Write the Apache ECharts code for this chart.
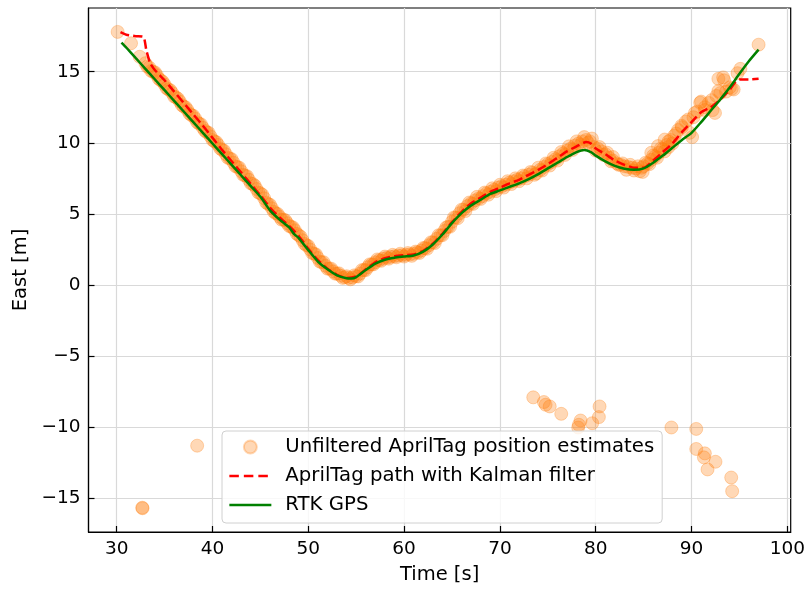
<!DOCTYPE html>
<html><head><meta charset="utf-8">
<script src="https://cdn.jsdelivr.net/npm/echarts@6/dist/echarts.min.js"></script>
<style>html,body{margin:0;padding:0;background:#fff}#c{width:808px;height:590px}</style>
</head><body><div id="c"></div>
<script>
const xTicks = [30, 40, 50, 60, 70, 80, 90, 100];
const yTicks = [-15, -10, -5, 0, 5, 10, 15];
const seriesNames = ['Unfiltered AprilTag position estimates', 'AprilTag path with Kalman filter', 'RTK GPS'];

// [time s, east m]
const gpsPath = [[30.5,17.05],[31,16.7],[32,15.95],[33,15.2],[34,14.45],[35,13.7],[36,12.95],[37,12.2],[38,11.45],[39,10.7],[40,9.95],[41,9.2],[42,8.45],[43,7.7],[44,6.95],[45,6.2],[46,5.25],[47,4.6],[48,4.05],[48.5,3.6],[49,3.3],[50,2.45],[51,1.65],[52,1.1],[53,0.68],[54,0.47],[54.5,0.45],[55,0.55],[56,1.05],[57,1.5],[58,1.78],[59,1.92],[60,2.0],[61,2.08],[62,2.35],[63,2.85],[64,3.55],[65,4.35],[66,5.05],[67,5.6],[68,6.0],[69,6.4],[70,6.65],[71,6.9],[72,7.15],[73,7.45],[74,7.8],[75,8.2],[76,8.6],[77,9.0],[78,9.35],[78.8,9.5],[79.5,9.35],[80,9.1],[81,8.7],[82,8.38],[83,8.18],[84,8.1],[85,8.2],[86,8.6],[87,9.1],[88,9.65],[89,10.2],[90,10.7],[91,11.45],[92,12.25],[93,13.05],[94,13.9],[95,14.85],[96,15.75],[97,16.55]];

const kalmanPath = [[30.4,17.78],[31,17.6],[32,17.5],[32.8,17.45],[33.1,16.5],[33.5,15.6],[34,15.1],[35,14.4],[36,13.6],[37,12.8],[38,12.0],[39,11.2],[40,10.35],[41,9.5],[42,8.7],[43,7.9],[44,7.1],[45,6.3],[46,5.45],[47,4.75],[48,4.15],[49,3.45],[50,2.55],[51,1.75],[52,1.15],[53,0.72],[54,0.5],[55,0.6],[56,1.1],[57,1.6],[58,1.88],[59,2.02],[60,2.1],[61,2.15],[62,2.4],[63,2.9],[64,3.6],[65,4.42],[66,5.15],[67,5.75],[68,6.15],[69,6.55],[70,6.85],[71,7.15],[72,7.4],[73,7.75],[74,8.1],[75,8.5],[76,8.95],[77,9.4],[78,9.75],[79,10.05],[79.5,9.95],[80,9.6],[81,9.2],[82,8.75],[83,8.45],[84,8.25],[85,8.25],[86,8.75],[87,9.35],[88,9.95],[89,10.75],[90,11.45],[91,12.15],[92,12.5],[93,13.05],[94,13.75],[94.6,14.3],[95,14.45],[96,14.45],[97,14.5]];

const aprilBand = [[30.1,17.8],[31.5,17.0],[32.4,16.05],[33.0,15.6],[33.4,15.3],[33.8,15.0],[34.2,14.75],[34.6,14.4],[35.0,14.1],[35.4,13.75],[35.8,13.5],[36.2,13.2],[36.6,12.9],[37.0,12.55],[37.4,12.3],[37.8,11.95],[38.2,11.7],[38.6,11.35],[39.0,11.05],[39.4,10.75],[39.8,10.45],[40.2,10.1],[40.6,9.85],[41.0,9.5],[41.4,9.2],[41.8,8.9],[42.2,8.6],[42.6,8.3],[43.0,8.0],[43.4,7.7],[43.8,7.4],[44.2,7.1],[44.6,6.75],[45.0,6.45],[45.4,6.1],[45.8,5.7],[46.2,5.4],[46.6,5.05],[47.0,4.8],[47.4,4.6],[47.8,4.35],[48.2,4.1],[48.6,3.85],[49.0,3.5],[49.4,3.15],[49.8,2.8],[50.2,2.5],[50.6,2.2],[51.0,1.9],[51.4,1.6],[51.8,1.35],[52.2,1.15],[52.6,0.95],[53.0,0.8],[53.4,0.65],[53.8,0.55],[54.2,0.5],[54.6,0.52],[55.0,0.62],[55.4,0.8],[55.8,1.05],[56.2,1.25],[56.6,1.45],[57.0,1.6],[57.4,1.75],[57.8,1.85],[58.2,1.92],[58.6,1.98],[59.0,2.02],[59.4,2.07],[59.8,2.1],[60.2,2.12],[60.6,2.15],[61.0,2.2],[61.4,2.3],[61.8,2.42],[62.2,2.6],[62.6,2.8],[63.0,3.0],[63.4,3.25],[63.8,3.5],[64.2,3.8],[64.6,4.1],[65.0,4.45],[65.4,4.75],[65.8,5.05],[66.2,5.3],[66.6,5.55],[67.0,5.75],[67.4,5.95],[67.8,6.1],[68.2,6.25],[68.6,6.45],[69.0,6.55],[69.4,6.7],[69.8,6.85],[70.2,6.95],[70.6,7.05],[71.0,7.2],[71.4,7.3],[71.8,7.4],[72.2,7.5],[72.6,7.65],[73.0,7.75],[73.4,7.9],[73.8,7.85],[74.2,8.1],[74.6,8.3],[75.0,8.5],[75.4,8.65],[75.8,8.85],[76.2,9.05],[76.6,9.25],[77.0,9.45],[77.4,9.6],[77.8,9.8],[78.2,9.95],[78.6,10.1],[79.0,10.2],[79.4,10.1],[79.8,9.7],[80.2,9.6],[80.6,9.4],[81.0,9.2],[81.4,8.95],[81.8,8.75],[82.2,8.55],[82.6,8.45],[83.0,8.35],[83.4,8.3],[83.8,8.25],[84.2,8.2],[84.6,8.0],[85.0,8.35],[85.4,8.55],[85.8,8.8],[86.2,9.05],[86.6,9.3],[87.0,9.55],[87.4,9.85],[87.8,10.2],[88.2,10.5],[88.6,10.9],[89.0,11.1],[89.4,11.5],[89.8,10.7],[90.2,11.8],[90.6,12.2],[91.0,12.9],[91.4,12.5],[91.8,12.8],[92.2,12.3],[92.6,13.3],[92.8,14.5],[93.3,14.6],[93.6,13.6],[94.0,13.9],[94.4,13.75],[94.8,14.9],[95.1,15.2],[97.0,16.9],
[84.9,7.95],[85.8,9.3],[86.5,9.77],[87.2,10.23],[87.6,9.7],[88.95,11.2],[89.65,11.64],[90.06,10.4],[90.35,12.1],[90.9,12.82],[91.4,12.3],[92.1,13.0],[92.45,12.1],[92.8,13.64],[93.0,13.5],[93.4,14.4],[94.2,13.8]];

const aprilBandExtra = [[33.2,15.35],[33.6,15.05],[34.0,14.95],[34.4,14.5],[34.8,14.3],[35.2,13.85],[35.6,13.7],[36.0,13.25],[36.4,13.1],[36.8,12.65],[37.2,12.5],[37.6,12.05],[38.0,11.9],[38.4,11.45],[38.8,11.3],[39.2,10.85],[39.6,10.7],[40.0,10.2],[40.4,10.05],[40.8,9.6],[41.2,9.45],[41.6,8.95],[42.0,8.85],[42.4,8.35],[42.8,8.25],[43.2,7.75],[43.6,7.65],[44.0,7.15],[44.4,7.0],[44.8,6.5],[45.2,6.35],[45.6,5.8],[46.0,5.65],[46.4,5.15],[46.8,5.0],[47.2,4.6],[47.6,4.55],[48.0,4.15],[48.4,4.05],[48.8,3.6],[49.2,3.4],[49.6,2.9],[50.0,2.75],[50.4,2.25],[50.8,2.15],[51.2,1.65],[51.6,1.6],[52.0,1.15],[52.4,1.15],[52.8,0.8],[53.2,0.82],[53.6,0.5],[54.0,0.62],[54.4,0.4],[54.8,0.68],[55.2,0.6],[55.6,1.05],[56.0,1.05],[56.4,1.45],[56.8,1.45],[57.2,1.8],[57.6,1.7],[58.0,2.0],[58.4,1.85],[58.8,2.12],[59.2,1.95],[59.6,2.2],[60.0,2.0],[60.4,2.25],[60.8,2.05],[61.2,2.35],[61.6,2.25],[62.0,2.6],[62.4,2.55],[62.8,3.0],[63.2,2.95],[63.6,3.5],[64.0,3.5],[64.4,4.05],[64.8,4.1],[65.2,4.75],[65.6,4.7],[66.0,5.3],[66.4,5.2],[66.8,5.8],[67.2,5.7],[67.6,6.2],[68.0,6.05],[68.4,6.5],[68.8,6.35],[69.2,6.8],[69.6,6.6],[70.0,7.05],[70.4,6.85],[70.8,7.3],[71.2,7.1],[71.6,7.5],[72.0,7.3],[72.4,7.7],[72.8,7.5],[73.2,7.95],[73.6,7.75],[74.0,8.25],[74.4,8.05],[74.8,8.55],[75.2,8.4],[75.6,8.95],[76.0,8.75],[76.4,9.35],[76.8,9.15],[77.2,9.75],[77.6,9.5],[78.0,10.1],[78.4,9.85],[78.8,10.4],[79.2,10.0],[79.6,10.3],[80.0,9.45],[80.4,9.7],[80.8,9.15],[81.2,9.3],[81.6,8.7],[81.8,9.0],[82.4,8.45],[82.8,8.55],[83.2,8.1],[83.6,8.45],[84.0,8.05],[84.4,8.35],[84.8,8.25],[85.2,8.6],[85.6,8.5],[86.0,9.1],[86.4,8.95],[86.8,9.6],[87.2,9.4],[87.6,10.1],[88.0,9.95],[88.4,10.65]];

const aprilOutliers = [[32.67,-15.66],[32.7,-15.7],[38.4,-11.3],[73.48,-7.9],[74.59,-8.23],[74.77,-8.42],[75.2,-8.54],[76.4,-9.06],[78.24,-9.83],[78.42,-9.53],[78.17,-10.02],[79.63,-9.72],[80.33,-9.29],[80.4,-8.54],[87.9,-10.02],[90.49,-10.12],[90.49,-11.53],[91.39,-11.84],[91.29,-12.12],[92.5,-12.43],[91.67,-12.97],[94.14,-13.54],[94.24,-14.5]];

const aprilPoints = aprilBand.concat(aprilBandExtra, aprilOutliers);

const FONT = 'DejaVu Sans';
const minus = v => String(v).replace('-', '\u2212');

const chart = echarts.init(document.getElementById('c'), null, {renderer: 'canvas'});
chart.setOption({
  animation: false,
  backgroundColor: '#fff',
  grid: {left: 88.5, right: 16, top: 8, bottom: 58, show: true, borderColor: '#000', borderWidth: 1.2, backgroundColor: 'transparent'},
  xAxis: {
    type: 'value', min: 27.06, max: 100.35,
    name: 'Time [s]', nameLocation: 'middle', nameGap: 33,
    nameTextStyle: {fontFamily: FONT, fontSize: 19.5, color: '#000'},
    axisLine: {show: true, onZero: false, lineStyle: {color: '#000', width: 1.2}},
    axisTick: {show: true, inside: true, length: 6, customValues: xTicks, lineStyle: {color: '#000', width: 1.2}},
    axisLabel: {customValues: xTicks, fontFamily: FONT, fontSize: 18.5, color: '#000', margin: 8, formatter: minus},
    splitLine: {show: true, lineStyle: {color: '#d9d9d9', width: 1.2}}
  },
  yAxis: {
    type: 'value', min: -17.37, max: 19.48,
    name: 'East [m]', nameLocation: 'middle', nameGap: 56, nameRotate: 90,
    nameTextStyle: {fontFamily: FONT, fontSize: 19.5, color: '#000'},
    axisLine: {show: true, onZero: false, lineStyle: {color: '#000', width: 1.2}},
    axisTick: {show: true, inside: true, length: 6, customValues: yTicks, lineStyle: {color: '#000', width: 1.2}},
    axisLabel: {customValues: yTicks, fontFamily: FONT, fontSize: 18.5, color: '#000', margin: 8, formatter: minus},
    splitLine: {show: true, lineStyle: {color: '#d9d9d9', width: 1.2}}
  },
  legend: {
    orient: 'vertical', left: 222, top: 431,
    padding: [6, 8, 8, 6],
    itemWidth: 42, itemHeight: 13, itemGap: 9,
    selectedMode: false,
    backgroundColor: 'rgba(255,255,255,0.8)', borderColor: '#d0d0d0', borderWidth: 1, borderRadius: 4,
    textStyle: {fontFamily: FONT, fontSize: 19.7, color: '#000', lineHeight: 19.5, padding: [0, 0, 0, 9]},
    data: [
      {name: seriesNames[0]},
      {name: seriesNames[1], itemStyle: {opacity: 0}, lineStyle: {width: 2.7, type: [9.5, 5]}},
      {name: seriesNames[2], itemStyle: {opacity: 0}, lineStyle: {width: 2.7}}
    ]
  },
  series: [
    {
      name: seriesNames[0], type: 'scatter', data: aprilPoints, symbol: 'circle', symbolSize: 13,
      itemStyle: {color: '#ff7f0e', borderColor: '#ff7f0e', borderWidth: 1, opacity: 0.3},
      z: 1
    },
    {
      name: seriesNames[1], type: 'line', data: kalmanPath, symbol: 'none', smooth: 0.2,
      lineStyle: {color: '#ff0000', width: 2.5, type: [9.25, 4]}, itemStyle: {color: '#ff0000'},
      z: 2
    },
    {
      name: seriesNames[2], type: 'line', data: gpsPath, symbol: 'none', smooth: 0.2,
      lineStyle: {color: '#008000', width: 2.5}, itemStyle: {color: '#008000'},
      z: 3
    }
  ]
});
</script>
</body></html>
